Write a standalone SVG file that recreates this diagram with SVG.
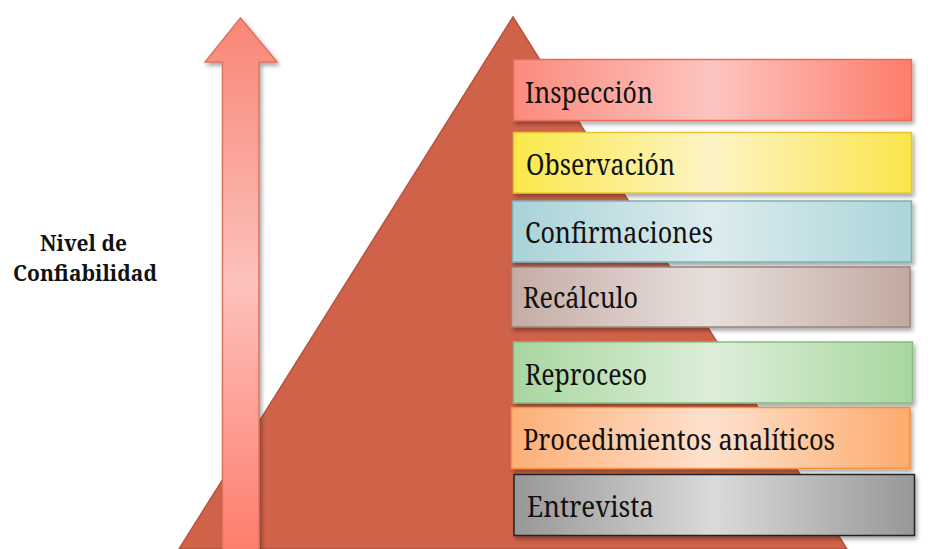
<svg xmlns="http://www.w3.org/2000/svg" width="933" height="549" viewBox="0 0 933 549">
<style>
.lbl{font-size:28.5px;fill:#111}
.side{font-size:22.5px;font-weight:bold;fill:#111}
.box{filter:url(#sh);stroke-width:1.5}
</style>
<defs>
<filter id="sh" x="-5%" y="-20%" width="110%" height="150%">
<feDropShadow dx="2" dy="3" stdDeviation="2" flood-color="#000" flood-opacity="0.35"/>
</filter>
<linearGradient id="gArrow" gradientUnits="userSpaceOnUse" x1="0" y1="18" x2="0" y2="549">
<stop offset="0" stop-color="#f98676"/><stop offset="0.5" stop-color="#fcc2bc"/><stop offset="1" stop-color="#fd7e6c"/>
</linearGradient>
<linearGradient id="g1"><stop offset="0" stop-color="#fb8a7c"/><stop offset="0.5" stop-color="#fdc5c1"/><stop offset="1" stop-color="#fd7d6b"/></linearGradient>
<linearGradient id="g2"><stop offset="0" stop-color="#fbe84a"/><stop offset="0.5" stop-color="#fdf4c6"/><stop offset="1" stop-color="#fbe54c"/></linearGradient>
<linearGradient id="g3"><stop offset="0" stop-color="#a8d3d7"/><stop offset="0.5" stop-color="#dcecef"/><stop offset="1" stop-color="#abd5d9"/></linearGradient>
<linearGradient id="g4"><stop offset="0" stop-color="#c5aca5"/><stop offset="0.5" stop-color="#e7dfdc"/><stop offset="1" stop-color="#c1a99f"/></linearGradient>
<linearGradient id="g5"><stop offset="0" stop-color="#a8d6a0"/><stop offset="0.5" stop-color="#ddeed9"/><stop offset="1" stop-color="#a8d7a0"/></linearGradient>
<linearGradient id="g6"><stop offset="0" stop-color="#fdaf76"/><stop offset="0.5" stop-color="#fee1cd"/><stop offset="1" stop-color="#fdab6d"/></linearGradient>
<linearGradient id="g7"><stop offset="0" stop-color="#979797"/><stop offset="0.5" stop-color="#dadada"/><stop offset="1" stop-color="#979797"/></linearGradient>
</defs>
<rect width="933" height="549" fill="#fff"/>
<g id="pyramid">
<polygon points="513,17 847,549 179,549" fill="#d0624a" stroke="#b9533c" stroke-width="1.5"/>
</g>
<g id="arrow">
<polygon points="240.5,18 277,62 259,62 259,552 222.5,552 222.5,62 205,62" fill="url(#gArrow)" stroke="#e2705f" stroke-width="1.5" filter="url(#sh)"/>
</g>
<g id="label" font-family="Noto Serif, serif">
<text class="side" x="40" y="251" textLength="87" lengthAdjust="spacingAndGlyphs">Nivel de</text>
<text class="side" x="13" y="281" textLength="144" lengthAdjust="spacingAndGlyphs">Confiabilidad</text>
</g>
<g font-family="Noto Serif, serif">
<g id="n-inspeccion">
<rect class="box" x="513.5" y="59.5" width="398" height="61" fill="url(#g1)" stroke="#ea6b5a"/>
<text class="lbl" x="525" y="103" textLength="128" lengthAdjust="spacingAndGlyphs">Inspección</text>
</g>
<g id="n-observacion">
<rect class="box" x="513.5" y="132.5" width="398" height="60.5" fill="url(#g2)" stroke="#e3c630"/>
<text class="lbl" x="526" y="175" textLength="149" lengthAdjust="spacingAndGlyphs">Observación</text>
</g>
<g id="n-confirmaciones">
<rect class="box" x="512.5" y="201" width="399" height="61" fill="url(#g3)" stroke="#80afb3"/>
<text class="lbl" x="525" y="243" textLength="188" lengthAdjust="spacingAndGlyphs">Confirmaciones</text>
</g>
<g id="n-recalculo">
<rect class="box" x="511.5" y="267" width="398.5" height="60" fill="url(#g4)" stroke="#9c837a"/>
<text class="lbl" x="523" y="308" textLength="115" lengthAdjust="spacingAndGlyphs">Recálculo</text>
</g>
<g id="n-reproceso">
<rect class="box" x="513.5" y="342" width="399" height="61" fill="url(#g5)" stroke="#85be7c"/>
<text class="lbl" x="525" y="385" textLength="122" lengthAdjust="spacingAndGlyphs">Reproceso</text>
</g>
<g id="n-procedimientos">
<rect class="box" x="511.5" y="407.5" width="398.5" height="61" fill="url(#g6)" stroke="#ee9540"/>
<text class="lbl" x="523" y="450" textLength="312" lengthAdjust="spacingAndGlyphs">Procedimientos analíticos</text>
</g>
<g id="n-entrevista">
<rect class="box" x="514" y="474.5" width="400.5" height="61" fill="url(#g7)" stroke="#222"/>
<text class="lbl" x="527" y="517" textLength="127" lengthAdjust="spacingAndGlyphs">Entrevista</text>
</g>
</g>
</svg>
